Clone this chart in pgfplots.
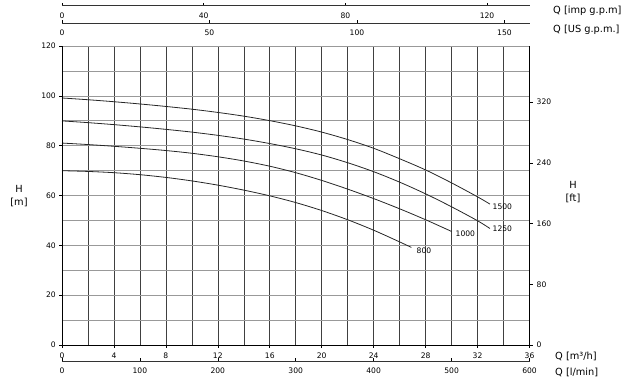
\documentclass[border=0pt]{standalone}
\usepackage{fontspec}
\setmainfont{DejaVu Sans}
\usepackage{pgfplots}
\pgfplotsset{compat=1.18}
\newcommand{\tickfont}{\fontsize{7.6}{8.5}\selectfont}
\newcommand{\labfont}{\fontsize{9.8}{11}\selectfont}
\pgfplotsset{
  common/.style={
    scale only axis,
    /pgf/number format/assume math mode=true,
    /pgf/number format/1000 sep={},
    tick label style={font=\tickfont},
    axis line style={draw=none},
    tick style={black, line width=0.6pt},
  },
  secx/.style={
    common, hide y axis, width=467.5pt, height=10pt, ymin=0, ymax=1,
    xtick pos=lower, tick align=inside, major tick length=3pt,
    xticklabel style={anchor=north, inner sep=0pt}, clip=false,
  },
}
\begin{document}
\begin{tikzpicture}[x=1pt,y=1pt]
\path[use as bounding box] (0,0) rectangle (626,385);
% main axis
\begin{axis}[common,
  at={(62pt,40pt)}, anchor=south west,
  width=467.5pt, height=298.8pt,
  xmin=0, xmax=36, ymin=0, ymax=120,
  xtick={0,4,...,36}, minor xtick={2,6,...,34},
  ytick={0,20,...,120}, minor ytick={10,30,...,110},
  xtick pos=lower, ytick pos=left, tick align=outside,
  major tick length=3pt, minor tick length=0pt,
  xmajorgrids, xminorgrids, ymajorgrids, yminorgrids,
  x grid style={black!75, line width=0.6pt},
  y grid style={black!40, line width=0.9pt},
  xticklabel style={anchor=north, inner sep=0pt, yshift=-4.9pt},
  yticklabel style={anchor=east, inner sep=0pt, xshift=-3pt},
  clip=false,
]
\addplot[black!85, line width=0.8pt, smooth] coordinates {
 (0,99.2)(2,98.5)(4,97.7)(6,96.8)(8,95.8)(10,94.7)(12,93.4)(14,91.9)(16,90.1)
 (18,88.0)(20,85.5)(22,82.5)(24,79.0)(26,74.8)(28,70.3)(30,65.1)(32,59.5)(32.95,56.6)};
\addplot[black!85, line width=0.8pt, smooth] coordinates {
 (0,90.0)(2,89.3)(4,88.5)(6,87.6)(8,86.6)(10,85.5)(12,84.2)(14,82.7)(16,80.9)
 (18,78.8)(20,76.3)(22,73.2)(24,69.6)(26,65.4)(28,60.7)(30,55.5)(32,49.9)(32.95,46.8)};
\addplot[black!85, line width=0.8pt, smooth] coordinates {
 (0,81.1)(2,80.5)(4,79.8)(6,79.0)(8,78.1)(10,77.0)(12,75.6)(14,73.9)(16,71.8)
 (18,69.2)(20,66.1)(22,62.6)(24,58.8)(26,54.7)(28,50.3)(30,45.6)};
\addplot[black!85, line width=0.8pt, smooth] coordinates {
 (0,70.0)(2,69.7)(4,69.2)(6,68.4)(8,67.3)(10,65.9)(12,64.2)(14,62.2)(16,59.9)
 (18,57.2)(20,54.0)(22,50.3)(24,46.1)(26,41.4)(26.9,39.2)};
\draw[black, line width=0.9pt] (rel axis cs:0,1) -- (rel axis cs:0,0) -- (rel axis cs:1,0) -- (rel axis cs:1,1);
\node[anchor=west, inner sep=0pt, font=\tickfont] at (axis cs:33.15,55.6) {1500};
\node[anchor=west, inner sep=0pt, font=\tickfont] at (axis cs:33.15,46.7) {1250};
\node[anchor=west, inner sep=0pt, font=\tickfont] at (axis cs:30.3,44.8) {1000};
\node[anchor=west, inner sep=0pt, font=\tickfont] at (axis cs:27.3,37.9) {800};
\end{axis}
% right ft axis
\begin{axis}[common, hide x axis,
  at={(62pt,40pt)}, anchor=south west,
  width=467.5pt, height=298.8pt,
  xmin=0, xmax=36, ymin=0, ymax=393.7,
  ytick={0,80,...,320}, ytick pos=right, yticklabel pos=right,
  tick align=outside, major tick length=3pt,
  yticklabel style={anchor=west, inner sep=0pt, xshift=4pt},
]
\end{axis}
% l/min axis
\begin{axis}[secx, at={(62pt,24pt)}, anchor=south west,
  xmin=0, xmax=600, xtick={0,100,...,600},
  xticklabel style={yshift=-6.3pt}]
\draw[black!80, line width=0.8pt] (axis cs:0,0) -- (axis cs:600,0);
\end{axis}
% US gpm axis
\begin{axis}[secx, at={(62pt,361.7pt)}, anchor=south west,
  xmin=0, xmax=158.503, xtick={0,50,100,150},
  xticklabel style={yshift=-6pt}]
\draw[black!80, line width=0.8pt] (axis cs:0,0) -- (axis cs:158.503,0);
\end{axis}
% imp gpm axis
\begin{axis}[secx, at={(62pt,379.3pt)}, anchor=south west,
  xmin=0, xmax=131.98, xtick={0,40,80,120},
  xticklabel style={yshift=-7pt}]
\draw[black!80, line width=0.8pt] (axis cs:0,0) -- (axis cs:131.98,0);
\end{axis}
% axis titles
\node[anchor=west, inner sep=0pt, font=\labfont] at (553,374) {Q [imp g.p.m]};
\node[anchor=west, inner sep=0pt, font=\labfont] at (553,355) {Q [US g.p.m.]};
\node[anchor=west, inner sep=0pt, font=\labfont] at (555,28.3) {Q [m³/h]};
\node[anchor=west, inner sep=0pt, font=\labfont] at (555,12.7) {Q [l/min]};
\node[align=center, inner sep=0pt, font=\labfont] at (19,189) {H\\[2pt][m]};
\node[align=center, inner sep=0pt, font=\labfont] at (573,193) {H\\[2pt][ft]};
\end{tikzpicture}
\end{document}
